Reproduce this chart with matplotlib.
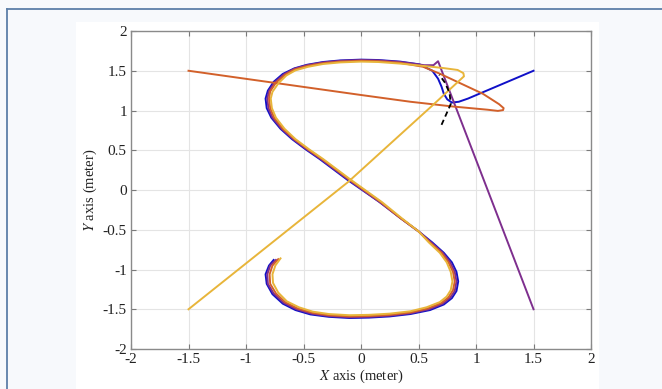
import matplotlib.pyplot as plt
from matplotlib.lines import Line2D
from matplotlib.patches import Rectangle

plt.rcParams['font.family'] = ['Liberation Serif', 'DejaVu Serif']
plt.rcParams['mathtext.fontset'] = 'stix'
plt.rcParams['axes.unicode_minus'] = False

# robot trajectories (x, y in meters)
blue_x = [1.5, 1.06, 0.93, 0.85, 0.79, 0.75, 0.72, 0.70, 0.67, 0.62, 0.51, 0.34, 0.15, 0.0,
          -0.18, -0.33, -0.47, -0.58, -0.68, -0.76, -0.81, -0.83, -0.82, -0.78, -0.70,
          -0.60, -0.48, -0.36, -0.12, 0.16, 0.34, 0.50, 0.62, 0.72, 0.79, 0.83, 0.845,
          0.83, 0.79, 0.72, 0.60, 0.43, 0.25, 0.07, -0.10, -0.28, -0.44, -0.57, -0.68,
          -0.77, -0.82, -0.83, -0.80, -0.76]
blue_y = [1.5, 1.23, 1.15, 1.11, 1.10, 1.14, 1.21, 1.30, 1.40, 1.50, 1.58, 1.615, 1.635, 1.64,
          1.63, 1.61, 1.575, 1.53, 1.46, 1.36, 1.25, 1.15, 1.03, 0.91, 0.77,
          0.64, 0.51, 0.39, 0.13, -0.15, -0.35, -0.52, -0.66, -0.79, -0.91, -1.03, -1.15,
          -1.27, -1.36, -1.44, -1.51, -1.56, -1.59, -1.605, -1.61, -1.595, -1.565, -1.51, -1.43,
          -1.31, -1.18, -1.06, -0.95, -0.88]

brown_x = [-1.5, 0.0, 0.43, 0.80, 1.10, 1.19, 1.235, 1.24, 1.20, 1.06, 0.86, 0.69, 0.54, 0.34,
           0.15, 0.0,
           -0.18, -0.33, -0.47, -0.58, -0.66, -0.74, -0.79, -0.80, -0.79, -0.755, -0.68,
           -0.58, -0.46, -0.34, -0.10, 0.17, 0.34, 0.50, 0.60, 0.70, 0.76, 0.80, 0.815,
           0.80, 0.76, 0.70, 0.58, 0.43, 0.25, 0.07, -0.10, -0.28, -0.42, -0.55, -0.66,
           -0.74, -0.79, -0.795, -0.77, -0.72]
brown_y = [1.5, 1.195, 1.11, 1.05, 1.01, 0.995, 1.005, 1.03, 1.08, 1.21, 1.345, 1.46, 1.55, 1.60,
           1.62, 1.625,
           1.615, 1.595, 1.56, 1.515, 1.45, 1.35, 1.24, 1.15, 1.03, 0.91, 0.77,
           0.64, 0.51, 0.39, 0.13, -0.15, -0.35, -0.52, -0.66, -0.79, -0.91, -1.03, -1.15,
           -1.26, -1.35, -1.42, -1.49, -1.54, -1.57, -1.585, -1.59, -1.575, -1.545, -1.49, -1.41,
           -1.30, -1.18, -1.06, -0.95, -0.87]

yellow_x = [-1.5, -0.113, 0.626, 0.85, 0.895, 0.89, 0.84, 0.71, 0.55, 0.34, 0.15, 0.0,
            -0.18, -0.33, -0.46, -0.57, -0.65, -0.72, -0.77, -0.785, -0.775, -0.74, -0.665,
            -0.57, -0.45, -0.33, -0.09, 0.18, 0.35, 0.50, 0.59, 0.685, 0.745, 0.78, 0.795,
            0.78, 0.745, 0.685, 0.57, 0.43, 0.25, 0.07, -0.10, -0.28, -0.42, -0.54, -0.645,
            -0.72, -0.765, -0.77, -0.745, -0.70]
yellow_y = [-1.5, 0.10, 1.07, 1.37, 1.43, 1.47, 1.51, 1.535, 1.56, 1.59, 1.61, 1.615,
            1.605, 1.585, 1.55, 1.505, 1.44, 1.34, 1.235, 1.15, 1.03, 0.91, 0.77,
            0.64, 0.51, 0.39, 0.13, -0.15, -0.35, -0.52, -0.66, -0.79, -0.91, -1.03, -1.15,
            -1.26, -1.34, -1.41, -1.475, -1.525, -1.555, -1.57, -1.575, -1.56, -1.53, -1.475, -1.40,
            -1.29, -1.17, -1.06, -0.95, -0.86]

purple_x = [1.5, 0.67, 0.63, 0.55, 0.45, 0.34, 0.15, 0.0,
            -0.18, -0.33, -0.47, -0.58, -0.67, -0.75, -0.80, -0.815, -0.805, -0.77, -0.69,
            -0.59, -0.47, -0.35, -0.11, 0.16, 0.34, 0.50, 0.61, 0.71, 0.775, 0.815, 0.83,
            0.815, 0.775, 0.71, 0.59, 0.43, 0.25, 0.07, -0.10, -0.28, -0.43, -0.56, -0.67,
            -0.76, -0.81, -0.815, -0.79, -0.74]
purple_y = [-1.5, 1.62, 1.57, 1.57, 1.59, 1.61, 1.63, 1.635,
            1.625, 1.605, 1.57, 1.525, 1.455, 1.355, 1.245, 1.15, 1.03, 0.91, 0.77,
            0.64, 0.51, 0.39, 0.13, -0.15, -0.35, -0.52, -0.66, -0.79, -0.91, -1.03, -1.15,
            -1.27, -1.355, -1.43, -1.50, -1.55, -1.58, -1.595, -1.60, -1.585, -1.555, -1.50, -1.42,
            -1.30, -1.18, -1.06, -0.95, -0.88]

# leader reference start
ref_x = [0.70, 0.74, 0.78, 0.77, 0.73, 0.68]
ref_y = [0.82, 0.95, 1.08, 1.22, 1.35, 1.45]

ticks = [-2, -1.5, -1, -0.5, 0, 0.5, 1, 1.5, 2]
tick_labels = ['-2', '-1.5', '-1', '-0.5', '0', '0.5', '1', '1.5', '2']

fig = plt.figure(figsize=(6.62, 3.89), dpi=100)
fig.patch.set_facecolor('#f7f9fc')

# white panel and page border
fig.patches.append(Rectangle((0.1148, 0.0), 0.79, 0.9434, transform=fig.transFigure,
                             facecolor='white', edgecolor='none', zorder=-10))
fig.lines.append(Line2D([0.0106, 0.0106], [0.0, 0.977], transform=fig.transFigure,
                        color='#5d7fa8', lw=1.3, zorder=-5))
fig.lines.append(Line2D([0.0106, 1.0], [0.977, 0.977], transform=fig.transFigure,
                        color='#5d7fa8', lw=1.3, zorder=-5))

ax = fig.add_axes([0.1979, 0.1028, 0.6949, 0.8175])
ax.set_facecolor('white')

lw = 1.4
ax.plot(blue_x, blue_y, color='#1010c8', lw=lw, zorder=3)
ax.plot(purple_x, purple_y, color='#7e2f8e', lw=lw, zorder=4)
ax.plot(brown_x, brown_y, color='#d2602a', lw=lw, zorder=5)
ax.plot(yellow_x, yellow_y, color='#e8b53a', lw=lw, zorder=6)
ax.plot(ref_x, ref_y, color='black', lw=1.3, ls=(0, (3, 2)), zorder=7)

ax.set_xlim(-2, 2)
ax.set_ylim(-2, 2)
ax.set_xticks(ticks)
ax.set_xticklabels(tick_labels)
ax.set_yticks(ticks)
ax.set_yticklabels(tick_labels)
ax.grid(True, color='#e4e4e4', lw=0.8)
ax.set_axisbelow(True)
ax.tick_params(direction='in', length=3.5, width=0.8, color='#7a7a7a',
               top=True, right=True, labelsize=11, labelcolor='#222222', pad=3)
for s in ax.spines.values():
    s.set_color('#8a8a8a')
    s.set_linewidth(1.0)

ax.set_xlabel('$X$ axis (meter)', fontsize=10.5, color='#222222', labelpad=1)
ax.set_ylabel('$Y$ axis (meter)', fontsize=10.5, color='#222222', labelpad=3)

fig.savefig('out.png', dpi=100)
